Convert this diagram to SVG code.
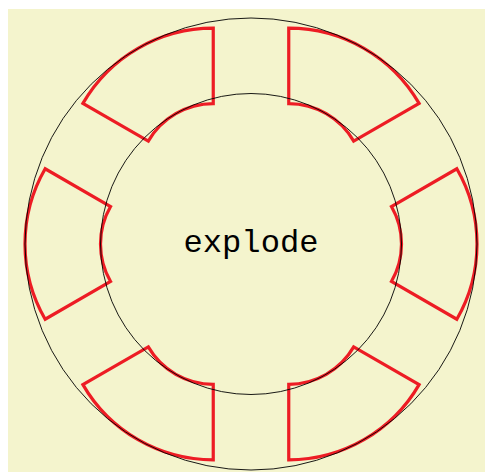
<svg xmlns="http://www.w3.org/2000/svg" width="485" height="472" viewBox="0 0 485 472">
  <style>
    .seg { fill: none; stroke: #ed1c24; stroke-width: 3.2; stroke-linejoin: miter; }
    .ring { fill: none; stroke: #000; stroke-width: 0.9; }
    .lbl { font-family: "Liberation Mono", "DejaVu Sans Mono", monospace; font-size: 32px; fill: #000; }
  </style>
  <defs>
    <path id="piece" d="M 130.34 75.25 A 150.5 150.5 0 0 0 130.34 -75.25 L 64.95 -37.5 A 75 75 0 0 1 64.95 37.5 Z"/>
  </defs>
  <rect x="8" y="9" width="477" height="463" fill="#f4f4cd"/>
  <g id="pieces">
    <g id="piece-0" transform="translate(251,244) rotate(0) translate(75.5,0)"><use href="#piece" class="seg"/></g>
    <g id="piece-60" transform="translate(251,244) rotate(-60) translate(75.5,0)"><use href="#piece" class="seg"/></g>
    <g id="piece-120" transform="translate(251,244) rotate(-120) translate(75.5,0)"><use href="#piece" class="seg"/></g>
    <g id="piece-180" transform="translate(251,244) rotate(-180) translate(75.5,0)"><use href="#piece" class="seg"/></g>
    <g id="piece-240" transform="translate(251,244) rotate(-240) translate(75.5,0)"><use href="#piece" class="seg"/></g>
    <g id="piece-300" transform="translate(251,244) rotate(-300) translate(75.5,0)"><use href="#piece" class="seg"/></g>
  </g>
  <g id="circles">
    <circle id="outer-circle" class="ring" cx="251" cy="244" r="226"/>
    <circle id="inner-circle" class="ring" cx="251" cy="244" r="150.5"/>
  </g>
  <g id="label">
    <text class="lbl" x="251" y="252" text-anchor="middle" textLength="135" lengthAdjust="spacingAndGlyphs">explode</text>
  </g>
</svg>
